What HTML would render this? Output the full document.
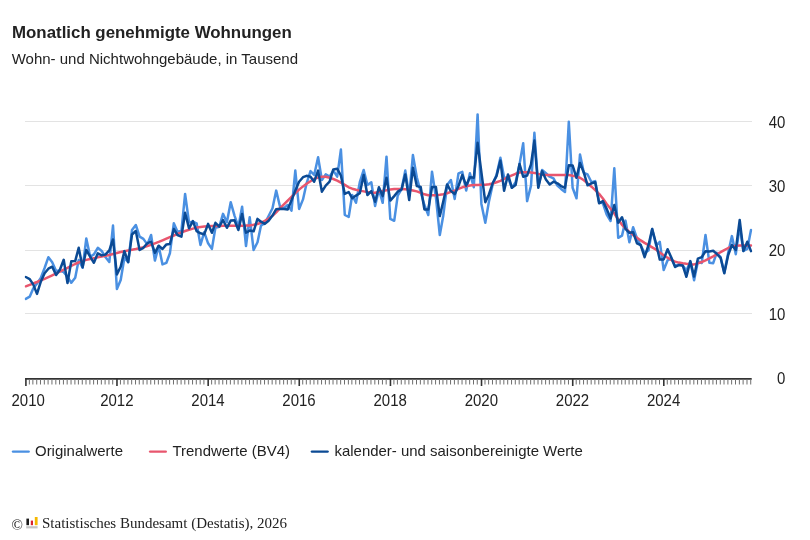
<!DOCTYPE html>
<html lang="de"><head><meta charset="utf-8"><title>Monatlich genehmigte Wohnungen</title>
<style>
html,body{margin:0;padding:0;background:#fff;}
body{width:810px;height:540px;overflow:hidden;font-family:"Liberation Sans",Arial,sans-serif;}
svg{display:block}
svg text{font-family:"Liberation Sans",Arial,sans-serif;font-size:15px;fill:#222}
</style></head><body>
<svg width="810" height="540" viewBox="0 0 810 540">
<rect width="810" height="540" fill="#fff"/>
<text x="12" y="37.9" style="font-size:16.875px;font-weight:bold">Monatlich genehmigte Wohnungen</text>
<text x="11.7" y="63.65">Wohn- und Nichtwohngebäude, in Tausend</text>
<line x1="25" x2="752" y1="313.5" y2="313.5" stroke="#e3e3e3" stroke-width="1"/><line x1="25" x2="752" y1="250.5" y2="250.5" stroke="#e3e3e3" stroke-width="1"/><line x1="25" x2="752" y1="185.5" y2="185.5" stroke="#e3e3e3" stroke-width="1"/><line x1="25" x2="752" y1="121.5" y2="121.5" stroke="#e3e3e3" stroke-width="1"/>
<text transform="translate(785.4,384.1) scale(1,1.15)" text-anchor="end">0</text><text transform="translate(785.4,320.3) scale(1,1.15)" text-anchor="end">10</text><text transform="translate(785.4,256.1) scale(1,1.15)" text-anchor="end">20</text><text transform="translate(785.4,191.8) scale(1,1.15)" text-anchor="end">30</text><text transform="translate(785.4,127.6) scale(1,1.15)" text-anchor="end">40</text>
<clipPath id="pc"><rect x="24.6" y="100" width="728" height="280"/></clipPath>
<g clip-path="url(#pc)">
<path d="M25.8 298.9 L29.7 296.7 L33.2 288.5 L37.0 283.5 L40.8 278.0 L44.6 268.0 L48.4 257.2 L52.2 262.2 L56.1 271.1 L59.9 270.6 L63.7 272.2 L67.5 276.7 L71.3 282.8 L75.2 277.8 L78.7 260.0 L82.6 267.8 L86.3 238.5 L90.2 256.7 L93.9 254.4 L97.8 247.8 L101.7 251.0 L105.4 257.0 L109.3 262.0 L113.0 225.6 L116.9 289.0 L120.7 280.0 L124.4 257.8 L128.2 262.2 L132.0 230.0 L135.8 225.0 L139.6 236.7 L143.4 238.9 L147.3 244.4 L151.1 235.0 L154.9 260.6 L158.7 246.1 L162.5 264.4 L166.4 262.8 L169.9 253.3 L173.8 223.3 L177.5 231.7 L181.4 231.0 L185.1 193.9 L189.0 222.5 L192.9 221.7 L196.6 223.3 L200.5 245.0 L204.2 232.2 L208.1 243.3 L211.9 248.9 L215.4 227.8 L219.3 226.7 L223.0 213.9 L226.9 222.2 L230.7 202.2 L234.5 215.6 L238.4 226.7 L242.1 206.7 L246.0 246.1 L249.7 217.2 L253.6 250.0 L257.5 242.2 L261.0 225.6 L264.8 223.3 L268.6 216.0 L272.5 208.3 L276.2 190.6 L280.1 207.0 L283.9 208.3 L287.7 205.0 L291.5 210.6 L295.3 170.6 L299.1 209.0 L303.0 199.4 L306.6 183.3 L310.5 171.1 L314.2 175.0 L318.1 157.2 L321.9 180.0 L325.7 174.4 L329.6 176.7 L333.3 170.6 L337.2 176.7 L340.9 149.6 L344.8 215.0 L348.7 217.0 L352.2 195.0 L356.0 202.8 L359.8 182.2 L363.7 170.0 L367.4 185.0 L371.3 182.2 L375.1 206.0 L378.9 189.4 L382.7 202.8 L386.5 156.7 L390.3 218.9 L394.2 220.8 L397.7 195.6 L401.6 189.0 L405.3 170.6 L409.2 196.0 L412.9 155.0 L416.8 177.2 L420.7 192.0 L424.4 205.0 L428.3 215.0 L432.0 171.7 L435.9 197.2 L439.8 235.0 L443.2 216.0 L447.1 185.0 L450.9 180.0 L454.7 198.9 L458.5 173.3 L462.3 171.9 L466.2 190.6 L469.9 173.3 L473.8 187.2 L477.6 114.4 L481.4 203.9 L485.3 222.8 L488.9 201.7 L492.8 184.0 L496.5 175.0 L500.4 157.8 L504.1 177.5 L508.0 177.8 L511.9 187.8 L515.6 182.2 L519.5 164.4 L523.2 143.3 L527.1 201.1 L531.0 185.6 L534.4 132.8 L538.3 186.7 L542.1 170.0 L545.9 173.3 L549.7 176.7 L553.5 178.3 L557.4 185.6 L561.1 188.9 L565.0 192.0 L568.8 121.7 L572.6 187.8 L576.5 198.3 L580.0 154.4 L583.9 173.0 L587.6 174.5 L591.5 182.2 L595.2 181.1 L599.1 202.0 L602.9 203.3 L606.7 214.7 L610.6 221.0 L614.3 168.3 L618.2 237.8 L622.0 235.6 L625.5 220.6 L629.4 242.2 L633.1 227.2 L637.0 238.3 L640.7 245.5 L644.6 252.8 L648.5 250.5 L652.2 229.0 L656.1 245.5 L659.8 241.8 L663.7 270.1 L667.6 260.3 L671.2 258.4 L675.1 266.0 L678.8 264.5 L682.7 265.5 L686.4 270.6 L690.3 261.7 L694.1 280.2 L697.9 261.5 L701.7 263.0 L705.5 235.0 L709.4 262.8 L713.2 263.2 L716.7 252.8 L720.6 257.2 L724.3 272.8 L728.2 252.8 L731.9 236.1 L735.8 254.2 L739.7 226.0 L743.4 251.0 L747.3 248.9 L751.0 230.0" fill="none" stroke="#4a90e2" stroke-width="2.5" stroke-linejoin="round" stroke-linecap="round"/>
<path d="M25.8 286.3 L29.7 284.8 L33.2 283.5 L37.0 282.0 L40.8 280.4 L44.6 278.8 L48.4 277.1 L52.2 275.3 L56.1 273.4 L59.9 271.6 L63.7 269.7 L67.5 267.9 L71.3 265.9 L75.2 264.0 L78.7 262.4 L82.6 261.0 L86.3 259.9 L90.2 259.0 L93.9 258.2 L97.8 257.4 L101.7 256.6 L105.4 255.8 L109.3 255.0 L113.0 254.0 L116.9 253.0 L120.7 252.0 L124.4 251.2 L128.2 250.4 L132.0 249.7 L135.8 249.0 L139.6 248.2 L143.4 247.3 L147.3 246.1 L151.1 244.9 L154.9 243.4 L158.7 241.9 L162.5 240.3 L166.4 238.6 L169.9 237.1 L173.8 235.5 L177.5 233.9 L181.4 232.4 L185.1 231.0 L189.0 229.8 L192.9 228.6 L196.6 227.6 L200.5 226.9 L204.2 226.6 L208.1 226.3 L211.9 226.1 L215.4 226.0 L219.3 225.9 L223.0 225.8 L226.9 225.8 L230.7 225.7 L234.5 225.7 L238.4 225.7 L242.1 225.7 L246.0 225.6 L249.7 225.4 L253.6 224.8 L257.5 224.0 L261.0 222.8 L264.8 220.8 L268.6 218.5 L272.5 215.8 L276.2 212.3 L280.1 208.2 L283.9 204.4 L287.7 200.6 L291.5 196.8 L295.3 193.0 L299.1 189.6 L303.0 186.4 L306.6 183.8 L310.5 181.2 L314.2 178.9 L318.1 177.5 L321.9 176.8 L325.7 176.8 L329.6 177.7 L333.3 179.0 L337.2 180.7 L340.9 182.7 L344.8 184.9 L348.7 187.3 L352.2 188.7 L356.0 189.8 L359.8 190.6 L363.7 191.4 L367.4 192.1 L371.3 192.7 L375.1 192.7 L378.9 191.9 L382.7 190.9 L386.5 190.2 L390.3 189.4 L394.2 188.9 L397.7 188.9 L401.6 189.1 L405.3 189.3 L409.2 189.7 L412.9 190.5 L416.8 191.4 L420.7 192.7 L424.4 194.3 L428.3 195.3 L432.0 195.3 L435.9 195.3 L439.8 194.8 L443.2 194.2 L447.1 193.2 L450.9 191.9 L454.7 190.6 L458.5 188.9 L462.3 187.3 L466.2 186.3 L469.9 185.6 L473.8 185.1 L477.6 184.9 L481.4 184.8 L485.3 184.7 L488.9 184.3 L492.8 183.5 L496.5 182.3 L500.4 180.9 L504.1 179.0 L508.0 177.1 L511.9 175.4 L515.6 173.8 L519.5 172.5 L523.2 172.2 L527.1 172.3 L531.0 172.6 L534.4 172.9 L538.3 173.9 L542.1 174.8 L545.9 175.0 L549.7 175.0 L553.5 175.0 L557.4 175.0 L561.1 175.0 L565.0 175.0 L568.8 175.1 L572.6 175.7 L576.5 176.6 L580.0 177.8 L583.9 180.3 L587.6 183.4 L591.5 186.7 L595.2 190.1 L599.1 193.9 L602.9 198.5 L606.7 204.0 L610.6 208.8 L614.3 213.6 L618.2 219.5 L622.0 224.8 L625.5 228.4 L629.4 231.9 L633.1 234.9 L637.0 237.8 L640.7 240.4 L644.6 242.9 L648.5 245.2 L652.2 247.4 L656.1 249.7 L659.8 252.4 L663.7 255.3 L667.6 257.7 L671.2 259.8 L675.1 261.6 L678.8 262.6 L682.7 263.3 L686.4 263.8 L690.3 264.2 L694.1 264.4 L697.9 263.4 L701.7 262.0 L705.5 260.3 L709.4 258.3 L713.2 256.3 L716.7 254.3 L720.6 252.2 L724.3 250.1 L728.2 248.0 L731.9 246.6 L735.8 245.8 L739.7 245.6 L743.4 245.6 L747.3 245.6 L751.0 245.6" fill="none" stroke="#e8566e" stroke-width="2.5" stroke-linejoin="round" stroke-linecap="round"/>
<path d="M25.8 277.0 L29.7 279.1 L33.2 284.4 L37.0 293.9 L40.8 281.7 L44.6 273.3 L48.4 268.7 L52.2 266.7 L56.1 275.0 L59.9 269.8 L63.7 259.8 L67.5 283.1 L71.3 261.3 L75.2 261.1 L78.7 247.8 L82.6 267.2 L86.3 250.0 L90.2 256.7 L93.9 262.8 L97.8 253.3 L101.7 255.4 L105.4 254.6 L109.3 250.3 L113.0 239.5 L116.9 274.4 L120.7 266.7 L124.4 251.1 L128.2 262.0 L132.0 234.5 L135.8 231.0 L139.6 250.0 L143.4 247.8 L147.3 243.3 L151.1 241.7 L154.9 252.8 L158.7 245.7 L162.5 249.0 L166.4 244.4 L169.9 244.1 L173.8 229.0 L177.5 235.0 L181.4 236.7 L185.1 212.8 L189.0 228.3 L192.9 221.1 L196.6 231.1 L200.5 233.3 L204.2 234.4 L208.1 223.9 L211.9 232.8 L215.4 222.8 L219.3 226.7 L223.0 220.0 L226.9 227.8 L230.7 220.6 L234.5 220.2 L238.4 230.0 L242.1 213.9 L246.0 232.8 L249.7 230.6 L253.6 231.3 L257.5 218.9 L261.0 221.7 L264.8 223.9 L268.6 220.8 L272.5 215.6 L276.2 209.2 L280.1 208.7 L283.9 209.0 L287.7 209.5 L291.5 200.3 L295.3 190.6 L299.1 181.7 L303.0 177.2 L306.6 175.8 L310.5 176.7 L314.2 181.7 L318.1 170.6 L321.9 191.7 L325.7 185.6 L329.6 181.7 L333.3 169.4 L337.2 168.7 L340.9 175.5 L344.8 193.9 L348.7 192.0 L352.2 198.3 L356.0 195.6 L359.8 193.3 L363.7 175.0 L367.4 195.0 L371.3 191.1 L375.1 201.7 L378.9 187.2 L382.7 196.1 L386.5 177.8 L390.3 200.6 L394.2 196.1 L397.7 191.7 L401.6 189.4 L405.3 174.4 L409.2 200.0 L412.9 167.8 L416.8 186.1 L420.7 187.0 L424.4 209.4 L428.3 209.5 L432.0 187.0 L435.9 187.0 L439.8 216.1 L443.2 201.7 L447.1 184.4 L450.9 191.1 L454.7 194.1 L458.5 186.0 L462.3 175.0 L466.2 185.6 L469.9 177.2 L473.8 177.8 L477.6 142.8 L481.4 172.5 L485.3 202.2 L488.9 194.4 L492.8 182.8 L496.5 176.1 L500.4 160.6 L504.1 190.8 L508.0 174.4 L511.9 187.8 L515.6 185.0 L519.5 163.9 L523.2 176.7 L527.1 175.6 L531.0 164.4 L534.4 140.6 L538.3 187.8 L542.1 171.1 L545.9 179.4 L549.7 184.4 L553.5 181.7 L557.4 183.3 L561.1 186.1 L565.0 187.8 L568.8 165.2 L572.6 165.5 L576.5 177.8 L580.0 163.0 L583.9 172.8 L587.6 185.3 L591.5 183.3 L595.2 182.2 L599.1 203.3 L602.9 201.1 L606.7 208.9 L610.6 218.5 L614.3 205.0 L618.2 222.8 L622.0 217.2 L625.5 228.9 L629.4 232.8 L633.1 232.2 L637.0 243.3 L640.7 245.0 L644.6 257.2 L648.5 245.0 L652.2 229.0 L656.1 243.8 L659.8 259.6 L663.7 259.4 L667.6 249.2 L671.2 257.3 L675.1 267.0 L678.8 265.1 L682.7 265.4 L686.4 276.8 L690.3 261.1 L694.1 276.6 L697.9 258.6 L701.7 257.2 L705.5 251.3 L709.4 251.4 L713.2 250.8 L716.7 253.9 L720.6 257.8 L724.3 273.3 L728.2 255.0 L731.9 245.0 L735.8 250.0 L739.7 220.0 L743.4 251.1 L747.3 241.7 L751.0 251.1" fill="none" stroke="#0b4a94" stroke-width="2.5" stroke-linejoin="round" stroke-linecap="round"/>
</g>
<line x1="25.1" x2="751.7" y1="378.85" y2="378.85" stroke="#333" stroke-width="1.7"/>
<line x1="25.90" x2="25.90" y1="378" y2="386" stroke="#333" stroke-width="1.6"/><line x1="29.37" x2="29.37" y1="379" y2="384.5" stroke="#6e6e6e" stroke-width="1"/><line x1="32.86" x2="32.86" y1="379" y2="384.5" stroke="#6e6e6e" stroke-width="1"/><line x1="36.73" x2="36.73" y1="379" y2="384.5" stroke="#6e6e6e" stroke-width="1"/><line x1="40.47" x2="40.47" y1="379" y2="384.5" stroke="#6e6e6e" stroke-width="1"/><line x1="44.34" x2="44.34" y1="379" y2="384.5" stroke="#6e6e6e" stroke-width="1"/><line x1="48.08" x2="48.08" y1="379" y2="384.5" stroke="#6e6e6e" stroke-width="1"/><line x1="51.95" x2="51.95" y1="379" y2="384.5" stroke="#6e6e6e" stroke-width="1"/><line x1="55.82" x2="55.82" y1="379" y2="384.5" stroke="#6e6e6e" stroke-width="1"/><line x1="59.56" x2="59.56" y1="379" y2="384.5" stroke="#6e6e6e" stroke-width="1"/><line x1="63.43" x2="63.43" y1="379" y2="384.5" stroke="#6e6e6e" stroke-width="1"/><line x1="67.17" x2="67.17" y1="379" y2="384.5" stroke="#6e6e6e" stroke-width="1"/><line x1="71.04" x2="71.04" y1="379" y2="384.5" stroke="#6e6e6e" stroke-width="1"/><line x1="74.90" x2="74.90" y1="379" y2="384.5" stroke="#6e6e6e" stroke-width="1"/><line x1="78.40" x2="78.40" y1="379" y2="384.5" stroke="#6e6e6e" stroke-width="1"/><line x1="82.27" x2="82.27" y1="379" y2="384.5" stroke="#6e6e6e" stroke-width="1"/><line x1="86.01" x2="86.01" y1="379" y2="384.5" stroke="#6e6e6e" stroke-width="1"/><line x1="89.88" x2="89.88" y1="379" y2="384.5" stroke="#6e6e6e" stroke-width="1"/><line x1="93.62" x2="93.62" y1="379" y2="384.5" stroke="#6e6e6e" stroke-width="1"/><line x1="97.49" x2="97.49" y1="379" y2="384.5" stroke="#6e6e6e" stroke-width="1"/><line x1="101.35" x2="101.35" y1="379" y2="384.5" stroke="#6e6e6e" stroke-width="1"/><line x1="105.10" x2="105.10" y1="379" y2="384.5" stroke="#6e6e6e" stroke-width="1"/><line x1="108.96" x2="108.96" y1="379" y2="384.5" stroke="#6e6e6e" stroke-width="1"/><line x1="112.71" x2="112.71" y1="379" y2="384.5" stroke="#6e6e6e" stroke-width="1"/><line x1="116.97" x2="116.97" y1="378" y2="386" stroke="#333" stroke-width="1.6"/><line x1="120.44" x2="120.44" y1="379" y2="384.5" stroke="#6e6e6e" stroke-width="1"/><line x1="124.06" x2="124.06" y1="379" y2="384.5" stroke="#6e6e6e" stroke-width="1"/><line x1="127.93" x2="127.93" y1="379" y2="384.5" stroke="#6e6e6e" stroke-width="1"/><line x1="131.67" x2="131.67" y1="379" y2="384.5" stroke="#6e6e6e" stroke-width="1"/><line x1="135.54" x2="135.54" y1="379" y2="384.5" stroke="#6e6e6e" stroke-width="1"/><line x1="139.28" x2="139.28" y1="379" y2="384.5" stroke="#6e6e6e" stroke-width="1"/><line x1="143.15" x2="143.15" y1="379" y2="384.5" stroke="#6e6e6e" stroke-width="1"/><line x1="147.02" x2="147.02" y1="379" y2="384.5" stroke="#6e6e6e" stroke-width="1"/><line x1="150.76" x2="150.76" y1="379" y2="384.5" stroke="#6e6e6e" stroke-width="1"/><line x1="154.63" x2="154.63" y1="379" y2="384.5" stroke="#6e6e6e" stroke-width="1"/><line x1="158.37" x2="158.37" y1="379" y2="384.5" stroke="#6e6e6e" stroke-width="1"/><line x1="162.24" x2="162.24" y1="379" y2="384.5" stroke="#6e6e6e" stroke-width="1"/><line x1="166.10" x2="166.10" y1="379" y2="384.5" stroke="#6e6e6e" stroke-width="1"/><line x1="169.60" x2="169.60" y1="379" y2="384.5" stroke="#6e6e6e" stroke-width="1"/><line x1="173.47" x2="173.47" y1="379" y2="384.5" stroke="#6e6e6e" stroke-width="1"/><line x1="177.21" x2="177.21" y1="379" y2="384.5" stroke="#6e6e6e" stroke-width="1"/><line x1="181.08" x2="181.08" y1="379" y2="384.5" stroke="#6e6e6e" stroke-width="1"/><line x1="184.82" x2="184.82" y1="379" y2="384.5" stroke="#6e6e6e" stroke-width="1"/><line x1="188.69" x2="188.69" y1="379" y2="384.5" stroke="#6e6e6e" stroke-width="1"/><line x1="192.55" x2="192.55" y1="379" y2="384.5" stroke="#6e6e6e" stroke-width="1"/><line x1="196.30" x2="196.30" y1="379" y2="384.5" stroke="#6e6e6e" stroke-width="1"/><line x1="200.16" x2="200.16" y1="379" y2="384.5" stroke="#6e6e6e" stroke-width="1"/><line x1="203.91" x2="203.91" y1="379" y2="384.5" stroke="#6e6e6e" stroke-width="1"/><line x1="208.17" x2="208.17" y1="378" y2="386" stroke="#333" stroke-width="1.6"/><line x1="211.64" x2="211.64" y1="379" y2="384.5" stroke="#6e6e6e" stroke-width="1"/><line x1="215.14" x2="215.14" y1="379" y2="384.5" stroke="#6e6e6e" stroke-width="1"/><line x1="219.00" x2="219.00" y1="379" y2="384.5" stroke="#6e6e6e" stroke-width="1"/><line x1="222.75" x2="222.75" y1="379" y2="384.5" stroke="#6e6e6e" stroke-width="1"/><line x1="226.61" x2="226.61" y1="379" y2="384.5" stroke="#6e6e6e" stroke-width="1"/><line x1="230.36" x2="230.36" y1="379" y2="384.5" stroke="#6e6e6e" stroke-width="1"/><line x1="234.22" x2="234.22" y1="379" y2="384.5" stroke="#6e6e6e" stroke-width="1"/><line x1="238.09" x2="238.09" y1="379" y2="384.5" stroke="#6e6e6e" stroke-width="1"/><line x1="241.83" x2="241.83" y1="379" y2="384.5" stroke="#6e6e6e" stroke-width="1"/><line x1="245.70" x2="245.70" y1="379" y2="384.5" stroke="#6e6e6e" stroke-width="1"/><line x1="249.44" x2="249.44" y1="379" y2="384.5" stroke="#6e6e6e" stroke-width="1"/><line x1="253.31" x2="253.31" y1="379" y2="384.5" stroke="#6e6e6e" stroke-width="1"/><line x1="257.18" x2="257.18" y1="379" y2="384.5" stroke="#6e6e6e" stroke-width="1"/><line x1="260.67" x2="260.67" y1="379" y2="384.5" stroke="#6e6e6e" stroke-width="1"/><line x1="264.54" x2="264.54" y1="379" y2="384.5" stroke="#6e6e6e" stroke-width="1"/><line x1="268.28" x2="268.28" y1="379" y2="384.5" stroke="#6e6e6e" stroke-width="1"/><line x1="272.15" x2="272.15" y1="379" y2="384.5" stroke="#6e6e6e" stroke-width="1"/><line x1="275.89" x2="275.89" y1="379" y2="384.5" stroke="#6e6e6e" stroke-width="1"/><line x1="279.76" x2="279.76" y1="379" y2="384.5" stroke="#6e6e6e" stroke-width="1"/><line x1="283.63" x2="283.63" y1="379" y2="384.5" stroke="#6e6e6e" stroke-width="1"/><line x1="287.37" x2="287.37" y1="379" y2="384.5" stroke="#6e6e6e" stroke-width="1"/><line x1="291.24" x2="291.24" y1="379" y2="384.5" stroke="#6e6e6e" stroke-width="1"/><line x1="294.98" x2="294.98" y1="379" y2="384.5" stroke="#6e6e6e" stroke-width="1"/><line x1="299.25" x2="299.25" y1="378" y2="386" stroke="#333" stroke-width="1.6"/><line x1="302.72" x2="302.72" y1="379" y2="384.5" stroke="#6e6e6e" stroke-width="1"/><line x1="306.33" x2="306.33" y1="379" y2="384.5" stroke="#6e6e6e" stroke-width="1"/><line x1="310.20" x2="310.20" y1="379" y2="384.5" stroke="#6e6e6e" stroke-width="1"/><line x1="313.95" x2="313.95" y1="379" y2="384.5" stroke="#6e6e6e" stroke-width="1"/><line x1="317.81" x2="317.81" y1="379" y2="384.5" stroke="#6e6e6e" stroke-width="1"/><line x1="321.56" x2="321.56" y1="379" y2="384.5" stroke="#6e6e6e" stroke-width="1"/><line x1="325.42" x2="325.42" y1="379" y2="384.5" stroke="#6e6e6e" stroke-width="1"/><line x1="329.29" x2="329.29" y1="379" y2="384.5" stroke="#6e6e6e" stroke-width="1"/><line x1="333.03" x2="333.03" y1="379" y2="384.5" stroke="#6e6e6e" stroke-width="1"/><line x1="336.90" x2="336.90" y1="379" y2="384.5" stroke="#6e6e6e" stroke-width="1"/><line x1="340.64" x2="340.64" y1="379" y2="384.5" stroke="#6e6e6e" stroke-width="1"/><line x1="344.51" x2="344.51" y1="379" y2="384.5" stroke="#6e6e6e" stroke-width="1"/><line x1="348.38" x2="348.38" y1="379" y2="384.5" stroke="#6e6e6e" stroke-width="1"/><line x1="351.87" x2="351.87" y1="379" y2="384.5" stroke="#6e6e6e" stroke-width="1"/><line x1="355.74" x2="355.74" y1="379" y2="384.5" stroke="#6e6e6e" stroke-width="1"/><line x1="359.48" x2="359.48" y1="379" y2="384.5" stroke="#6e6e6e" stroke-width="1"/><line x1="363.35" x2="363.35" y1="379" y2="384.5" stroke="#6e6e6e" stroke-width="1"/><line x1="367.09" x2="367.09" y1="379" y2="384.5" stroke="#6e6e6e" stroke-width="1"/><line x1="370.96" x2="370.96" y1="379" y2="384.5" stroke="#6e6e6e" stroke-width="1"/><line x1="374.83" x2="374.83" y1="379" y2="384.5" stroke="#6e6e6e" stroke-width="1"/><line x1="378.57" x2="378.57" y1="379" y2="384.5" stroke="#6e6e6e" stroke-width="1"/><line x1="382.44" x2="382.44" y1="379" y2="384.5" stroke="#6e6e6e" stroke-width="1"/><line x1="386.18" x2="386.18" y1="379" y2="384.5" stroke="#6e6e6e" stroke-width="1"/><line x1="390.45" x2="390.45" y1="378" y2="386" stroke="#333" stroke-width="1.6"/><line x1="393.92" x2="393.92" y1="379" y2="384.5" stroke="#6e6e6e" stroke-width="1"/><line x1="397.41" x2="397.41" y1="379" y2="384.5" stroke="#6e6e6e" stroke-width="1"/><line x1="401.28" x2="401.28" y1="379" y2="384.5" stroke="#6e6e6e" stroke-width="1"/><line x1="405.02" x2="405.02" y1="379" y2="384.5" stroke="#6e6e6e" stroke-width="1"/><line x1="408.89" x2="408.89" y1="379" y2="384.5" stroke="#6e6e6e" stroke-width="1"/><line x1="412.63" x2="412.63" y1="379" y2="384.5" stroke="#6e6e6e" stroke-width="1"/><line x1="416.50" x2="416.50" y1="379" y2="384.5" stroke="#6e6e6e" stroke-width="1"/><line x1="420.37" x2="420.37" y1="379" y2="384.5" stroke="#6e6e6e" stroke-width="1"/><line x1="424.11" x2="424.11" y1="379" y2="384.5" stroke="#6e6e6e" stroke-width="1"/><line x1="427.98" x2="427.98" y1="379" y2="384.5" stroke="#6e6e6e" stroke-width="1"/><line x1="431.72" x2="431.72" y1="379" y2="384.5" stroke="#6e6e6e" stroke-width="1"/><line x1="435.59" x2="435.59" y1="379" y2="384.5" stroke="#6e6e6e" stroke-width="1"/><line x1="439.45" x2="439.45" y1="379" y2="384.5" stroke="#6e6e6e" stroke-width="1"/><line x1="442.95" x2="442.95" y1="379" y2="384.5" stroke="#6e6e6e" stroke-width="1"/><line x1="446.81" x2="446.81" y1="379" y2="384.5" stroke="#6e6e6e" stroke-width="1"/><line x1="450.56" x2="450.56" y1="379" y2="384.5" stroke="#6e6e6e" stroke-width="1"/><line x1="454.42" x2="454.42" y1="379" y2="384.5" stroke="#6e6e6e" stroke-width="1"/><line x1="458.17" x2="458.17" y1="379" y2="384.5" stroke="#6e6e6e" stroke-width="1"/><line x1="462.04" x2="462.04" y1="379" y2="384.5" stroke="#6e6e6e" stroke-width="1"/><line x1="465.90" x2="465.90" y1="379" y2="384.5" stroke="#6e6e6e" stroke-width="1"/><line x1="469.65" x2="469.65" y1="379" y2="384.5" stroke="#6e6e6e" stroke-width="1"/><line x1="473.51" x2="473.51" y1="379" y2="384.5" stroke="#6e6e6e" stroke-width="1"/><line x1="477.26" x2="477.26" y1="379" y2="384.5" stroke="#6e6e6e" stroke-width="1"/><line x1="481.52" x2="481.52" y1="378" y2="386" stroke="#333" stroke-width="1.6"/><line x1="484.99" x2="484.99" y1="379" y2="384.5" stroke="#6e6e6e" stroke-width="1"/><line x1="488.61" x2="488.61" y1="379" y2="384.5" stroke="#6e6e6e" stroke-width="1"/><line x1="492.48" x2="492.48" y1="379" y2="384.5" stroke="#6e6e6e" stroke-width="1"/><line x1="496.22" x2="496.22" y1="379" y2="384.5" stroke="#6e6e6e" stroke-width="1"/><line x1="500.09" x2="500.09" y1="379" y2="384.5" stroke="#6e6e6e" stroke-width="1"/><line x1="503.83" x2="503.83" y1="379" y2="384.5" stroke="#6e6e6e" stroke-width="1"/><line x1="507.70" x2="507.70" y1="379" y2="384.5" stroke="#6e6e6e" stroke-width="1"/><line x1="511.56" x2="511.56" y1="379" y2="384.5" stroke="#6e6e6e" stroke-width="1"/><line x1="515.31" x2="515.31" y1="379" y2="384.5" stroke="#6e6e6e" stroke-width="1"/><line x1="519.18" x2="519.18" y1="379" y2="384.5" stroke="#6e6e6e" stroke-width="1"/><line x1="522.92" x2="522.92" y1="379" y2="384.5" stroke="#6e6e6e" stroke-width="1"/><line x1="526.79" x2="526.79" y1="379" y2="384.5" stroke="#6e6e6e" stroke-width="1"/><line x1="530.65" x2="530.65" y1="379" y2="384.5" stroke="#6e6e6e" stroke-width="1"/><line x1="534.15" x2="534.15" y1="379" y2="384.5" stroke="#6e6e6e" stroke-width="1"/><line x1="538.01" x2="538.01" y1="379" y2="384.5" stroke="#6e6e6e" stroke-width="1"/><line x1="541.76" x2="541.76" y1="379" y2="384.5" stroke="#6e6e6e" stroke-width="1"/><line x1="545.62" x2="545.62" y1="379" y2="384.5" stroke="#6e6e6e" stroke-width="1"/><line x1="549.37" x2="549.37" y1="379" y2="384.5" stroke="#6e6e6e" stroke-width="1"/><line x1="553.23" x2="553.23" y1="379" y2="384.5" stroke="#6e6e6e" stroke-width="1"/><line x1="557.10" x2="557.10" y1="379" y2="384.5" stroke="#6e6e6e" stroke-width="1"/><line x1="560.85" x2="560.85" y1="379" y2="384.5" stroke="#6e6e6e" stroke-width="1"/><line x1="564.71" x2="564.71" y1="379" y2="384.5" stroke="#6e6e6e" stroke-width="1"/><line x1="568.46" x2="568.46" y1="379" y2="384.5" stroke="#6e6e6e" stroke-width="1"/><line x1="572.72" x2="572.72" y1="378" y2="386" stroke="#333" stroke-width="1.6"/><line x1="576.19" x2="576.19" y1="379" y2="384.5" stroke="#6e6e6e" stroke-width="1"/><line x1="579.68" x2="579.68" y1="379" y2="384.5" stroke="#6e6e6e" stroke-width="1"/><line x1="583.55" x2="583.55" y1="379" y2="384.5" stroke="#6e6e6e" stroke-width="1"/><line x1="587.29" x2="587.29" y1="379" y2="384.5" stroke="#6e6e6e" stroke-width="1"/><line x1="591.16" x2="591.16" y1="379" y2="384.5" stroke="#6e6e6e" stroke-width="1"/><line x1="594.90" x2="594.90" y1="379" y2="384.5" stroke="#6e6e6e" stroke-width="1"/><line x1="598.77" x2="598.77" y1="379" y2="384.5" stroke="#6e6e6e" stroke-width="1"/><line x1="602.64" x2="602.64" y1="379" y2="384.5" stroke="#6e6e6e" stroke-width="1"/><line x1="606.38" x2="606.38" y1="379" y2="384.5" stroke="#6e6e6e" stroke-width="1"/><line x1="610.25" x2="610.25" y1="379" y2="384.5" stroke="#6e6e6e" stroke-width="1"/><line x1="613.99" x2="613.99" y1="379" y2="384.5" stroke="#6e6e6e" stroke-width="1"/><line x1="617.86" x2="617.86" y1="379" y2="384.5" stroke="#6e6e6e" stroke-width="1"/><line x1="621.73" x2="621.73" y1="379" y2="384.5" stroke="#6e6e6e" stroke-width="1"/><line x1="625.22" x2="625.22" y1="379" y2="384.5" stroke="#6e6e6e" stroke-width="1"/><line x1="629.09" x2="629.09" y1="379" y2="384.5" stroke="#6e6e6e" stroke-width="1"/><line x1="632.83" x2="632.83" y1="379" y2="384.5" stroke="#6e6e6e" stroke-width="1"/><line x1="636.70" x2="636.70" y1="379" y2="384.5" stroke="#6e6e6e" stroke-width="1"/><line x1="640.44" x2="640.44" y1="379" y2="384.5" stroke="#6e6e6e" stroke-width="1"/><line x1="644.31" x2="644.31" y1="379" y2="384.5" stroke="#6e6e6e" stroke-width="1"/><line x1="648.18" x2="648.18" y1="379" y2="384.5" stroke="#6e6e6e" stroke-width="1"/><line x1="651.92" x2="651.92" y1="379" y2="384.5" stroke="#6e6e6e" stroke-width="1"/><line x1="655.79" x2="655.79" y1="379" y2="384.5" stroke="#6e6e6e" stroke-width="1"/><line x1="659.53" x2="659.53" y1="379" y2="384.5" stroke="#6e6e6e" stroke-width="1"/><line x1="663.80" x2="663.80" y1="378" y2="386" stroke="#333" stroke-width="1.6"/><line x1="667.27" x2="667.27" y1="379" y2="384.5" stroke="#6e6e6e" stroke-width="1"/><line x1="670.88" x2="670.88" y1="379" y2="384.5" stroke="#6e6e6e" stroke-width="1"/><line x1="674.75" x2="674.75" y1="379" y2="384.5" stroke="#6e6e6e" stroke-width="1"/><line x1="678.49" x2="678.49" y1="379" y2="384.5" stroke="#6e6e6e" stroke-width="1"/><line x1="682.36" x2="682.36" y1="379" y2="384.5" stroke="#6e6e6e" stroke-width="1"/><line x1="686.10" x2="686.10" y1="379" y2="384.5" stroke="#6e6e6e" stroke-width="1"/><line x1="689.97" x2="689.97" y1="379" y2="384.5" stroke="#6e6e6e" stroke-width="1"/><line x1="693.84" x2="693.84" y1="379" y2="384.5" stroke="#6e6e6e" stroke-width="1"/><line x1="697.58" x2="697.58" y1="379" y2="384.5" stroke="#6e6e6e" stroke-width="1"/><line x1="701.45" x2="701.45" y1="379" y2="384.5" stroke="#6e6e6e" stroke-width="1"/><line x1="705.19" x2="705.19" y1="379" y2="384.5" stroke="#6e6e6e" stroke-width="1"/><line x1="709.06" x2="709.06" y1="379" y2="384.5" stroke="#6e6e6e" stroke-width="1"/><line x1="712.93" x2="712.93" y1="379" y2="384.5" stroke="#6e6e6e" stroke-width="1"/><line x1="716.42" x2="716.42" y1="379" y2="384.5" stroke="#6e6e6e" stroke-width="1"/><line x1="720.29" x2="720.29" y1="379" y2="384.5" stroke="#6e6e6e" stroke-width="1"/><line x1="724.03" x2="724.03" y1="379" y2="384.5" stroke="#6e6e6e" stroke-width="1"/><line x1="727.90" x2="727.90" y1="379" y2="384.5" stroke="#6e6e6e" stroke-width="1"/><line x1="731.64" x2="731.64" y1="379" y2="384.5" stroke="#6e6e6e" stroke-width="1"/><line x1="735.51" x2="735.51" y1="379" y2="384.5" stroke="#6e6e6e" stroke-width="1"/><line x1="739.38" x2="739.38" y1="379" y2="384.5" stroke="#6e6e6e" stroke-width="1"/><line x1="743.12" x2="743.12" y1="379" y2="384.5" stroke="#6e6e6e" stroke-width="1"/><line x1="746.99" x2="746.99" y1="379" y2="384.5" stroke="#6e6e6e" stroke-width="1"/><line x1="750.73" x2="750.73" y1="379" y2="384.5" stroke="#6e6e6e" stroke-width="1"/>
<text transform="translate(28.2,405.7) scale(1,1.15)" text-anchor="middle">2010</text><text transform="translate(116.8,405.7) scale(1,1.15)" text-anchor="middle">2012</text><text transform="translate(208.0,405.7) scale(1,1.15)" text-anchor="middle">2014</text><text transform="translate(299.0,405.7) scale(1,1.15)" text-anchor="middle">2016</text><text transform="translate(390.2,405.7) scale(1,1.15)" text-anchor="middle">2018</text><text transform="translate(481.3,405.7) scale(1,1.15)" text-anchor="middle">2020</text><text transform="translate(572.5,405.7) scale(1,1.15)" text-anchor="middle">2022</text><text transform="translate(663.6,405.7) scale(1,1.15)" text-anchor="middle">2024</text>
<g stroke-width="2.4" stroke-linecap="round">
<line x1="13" x2="28.7" y1="451.6" y2="451.6" stroke="#4a90e2"/>
<line x1="150.1" x2="165.8" y1="451.6" y2="451.6" stroke="#e8566e"/>
<line x1="311.9" x2="327.6" y1="451.6" y2="451.6" stroke="#0b4a94"/>
</g>
<text transform="translate(35,455.6) scale(0.997,1.01)">Originalwerte</text>
<text transform="translate(172.5,455.6) scale(0.997,1.01)">Trendwerte (BV4)</text>
<text transform="translate(334.5,455.6) scale(0.997,1.01)">kalender- und saisonbereinigte Werte</text>
<g style="font-family:'Liberation Serif','Times New Roman',serif">
<text x="11.5" y="529.5" style="font-family:'Liberation Serif',serif;font-size:15px;fill:#222">©</text>
<rect x="26.4" y="518.6" width="2.6" height="6.6" fill="#1a1a1a"/>
<rect x="30.8" y="520.6" width="2.2" height="4.6" fill="#d9232e"/>
<rect x="34.8" y="517" width="2.8" height="8.2" fill="#f5b800"/>
<rect x="26.2" y="526.2" width="11.4" height="2.2" fill="#c4c4c4"/>
<text x="42" y="527.5" style="font-family:'Liberation Serif',serif;font-size:15px;fill:#222">Statistisches Bundesamt (Destatis), 2026</text>
</g>
</svg>
</body></html>
